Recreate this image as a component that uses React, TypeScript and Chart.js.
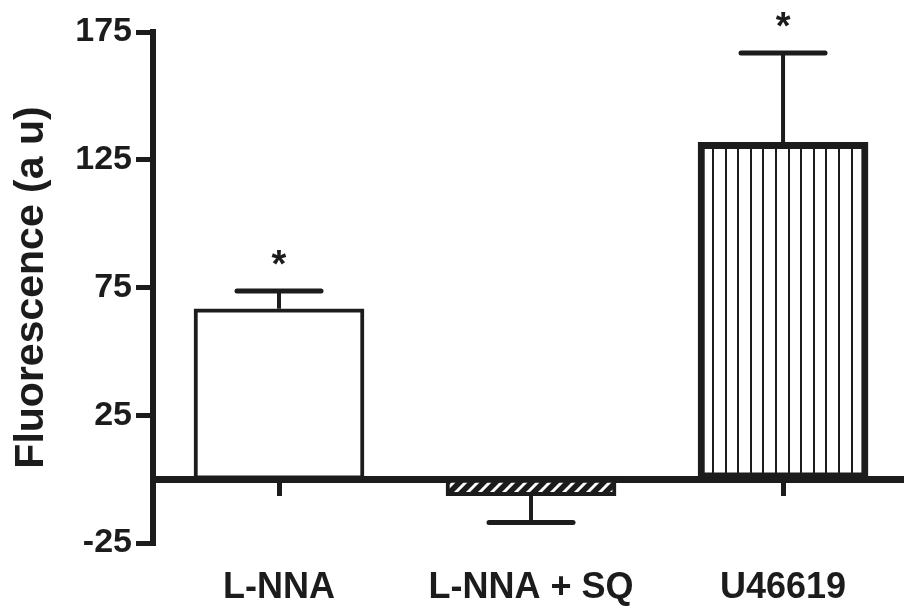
import React, { useEffect, useRef } from 'react';
import { Chart, registerables } from 'chart.js';

Chart.register(...registerables);

// ---- data ----
const categories = ['L-NNA', 'L-NNA + SQ', 'U46619'];
const means = [66.7, -6.5, 131.8];
const sems = [6.9, 10.5, 35];
const significant = [true, false, true];
const yTickValues = [-25, 25, 75, 125, 175];

const FONT = '"Liberation Sans", Arial, Helvetica, sans-serif';
const INK = '#1c1c1c';

function makeHatch(): CanvasPattern | string {
  const s = 12;
  const c = document.createElement('canvas');
  c.width = s;
  c.height = s;
  const g = c.getContext('2d');
  if (!g) return INK;
  g.fillStyle = INK;
  g.fillRect(0, 0, s, s);
  g.strokeStyle = '#ffffff';
  g.lineWidth = 3;
  g.beginPath();
  g.moveTo(0, s);
  g.lineTo(s, 0);
  g.moveTo(-s / 2, s / 2);
  g.lineTo(s / 2, -s / 2);
  g.moveTo(s / 2, s * 1.5);
  g.lineTo(s * 1.5, s / 2);
  g.stroke();
  return g.createPattern(c, 'repeat') || INK;
}

function makeStripes(): CanvasPattern | string {
  const w = 63;
  const c = document.createElement('canvas');
  c.width = w;
  c.height = 4;
  const g = c.getContext('2d');
  if (!g) return '#fff';
  g.fillStyle = '#ffffff';
  g.fillRect(0, 0, w, 4);
  g.fillStyle = INK;
  for (let k = 0; k < 5; k++) g.fillRect(Math.round(k * 12.6), 0, 2, 4);
  const p = g.createPattern(c, 'repeat');
  if (!p) return '#fff';
  try {
    p.setTransform(new DOMMatrix().translate(19, 0));
  } catch (e) {
    /* ignore */
  }
  return p;
}

export default function App() {
  const ref = useRef<HTMLCanvasElement>(null);

  useEffect(() => {
    const canvas = ref.current;
    if (!canvas) return;

    const fills = ['#ffffff', makeHatch(), makeStripes()];

    const setTicks = (scale: any) => {
      scale.ticks = categories.map((_, i) => ({ value: i }));
    };

    const errorPlugin = {
      id: 'errorBars',
      afterDatasetsDraw(chart: any) {
        const ctx = chart.ctx;
        const ys = chart.scales.y;
        const meta = chart.getDatasetMeta(0);
        ctx.save();
        ctx.strokeStyle = INK;
        ctx.fillStyle = INK;
        meta.data.forEach((el: any, i: number) => {
          const v = means[i];
          const e = sems[i];
          const end = v >= 0 ? v + e : v - e;
          const yEnd = ys.getPixelForValue(end);
          const x = el.x;
          ctx.lineWidth = 4;
          ctx.lineCap = 'butt';
          ctx.beginPath();
          ctx.moveTo(x, el.y);
          ctx.lineTo(x, yEnd);
          ctx.stroke();
          ctx.lineWidth = 5;
          ctx.lineCap = 'round';
          ctx.beginPath();
          ctx.moveTo(x - 42, yEnd);
          ctx.lineTo(x + 42, yEnd);
          ctx.stroke();
          if (significant[i]) {
            ctx.font = `bold 38px ${FONT}`;
            ctx.textAlign = 'center';
            ctx.textBaseline = 'alphabetic';
            ctx.fillText('*', x, yEnd - 36 + 22);
          }
        });
        ctx.restore();
      },
    };

    const chart = new Chart(canvas, {
      type: 'bar',
      data: {
        datasets: [
          {
            xAxisID: 'x',
            yAxisID: 'y',
            data: categories.map((_, i) => ({ x: i, y: means[i] })) as any,
            backgroundColor: fills as any,
            borderColor: INK,
            borderWidth: [4, 4, 7] as any,
            borderSkipped: false,
            barThickness: 170,
          },
        ],
      },
      options: {
        responsive: false,
        animation: false,
        devicePixelRatio: 1,
        layout: { padding: { top: 32, right: 2, left: 0, bottom: 0 } },
        plugins: {
          legend: { display: false },
          tooltip: { enabled: false },
        },
        scales: {
          x: {
            type: 'linear',
            position: { y: 0 } as any,
            min: -0.5,
            max: 2.472,
            offset: false,
            z: 1,
            afterBuildTicks: setTicks,
            ticks: { display: false },
            grid: {
              offset: false,
              drawOnChartArea: false,
              drawTicks: true,
              tickLength: 13,
              lineWidth: 5,
              color: INK,
            },
            border: { display: true, width: 7, color: INK },
          },
          x2: {
            type: 'linear',
            position: 'bottom',
            min: -0.5,
            max: 2.472,
            offset: false,
            afterBuildTicks: setTicks,
            afterFit: (s: any) => {
              s.height = 68;
              s.paddingLeft = 0;
              s.paddingRight = 0;
            },
            grid: { display: false, drawTicks: false, offset: false },
            border: { display: false },
            ticks: {
              autoSkip: false,
              maxRotation: 0,
              padding: 23,
              color: INK,
              font: { family: FONT, size: 36, weight: 'bold' },
              callback: (v: any) => categories[Math.round(Number(v))] ?? '',
            },
          },
          y: {
            type: 'linear',
            position: 'left',
            min: -25,
            max: 175,
            afterBuildTicks: (scale: any) => {
              scale.ticks = yTickValues.map((v) => ({ value: v }));
            },
            afterFit: (s: any) => {
              s.width = 153;
            },
            grid: {
              drawOnChartArea: false,
              drawTicks: true,
              tickLength: 17,
              lineWidth: 5,
              color: INK,
            },
            border: { display: true, width: 6, color: INK },
            ticks: {
              padding: 4,
              color: INK,
              font: { family: FONT, size: 34, weight: 'bold' },
            },
            title: {
              display: true,
              text: 'Fluorescence (a u)',
              color: INK,
              padding: { top: 7, bottom: 0 },
              font: { family: FONT, size: 41, weight: 'bold' },
            },
          },
        },
      },
      plugins: [errorPlugin],
    });

    return () => chart.destroy();
  }, []);

  return (
    <div style={{ position: 'absolute', left: 0, top: 0, width: 904, height: 611, background: '#fff' }}>
      <canvas ref={ref} width={904} height={611} style={{ display: 'block' }} />
    </div>
  );
}
